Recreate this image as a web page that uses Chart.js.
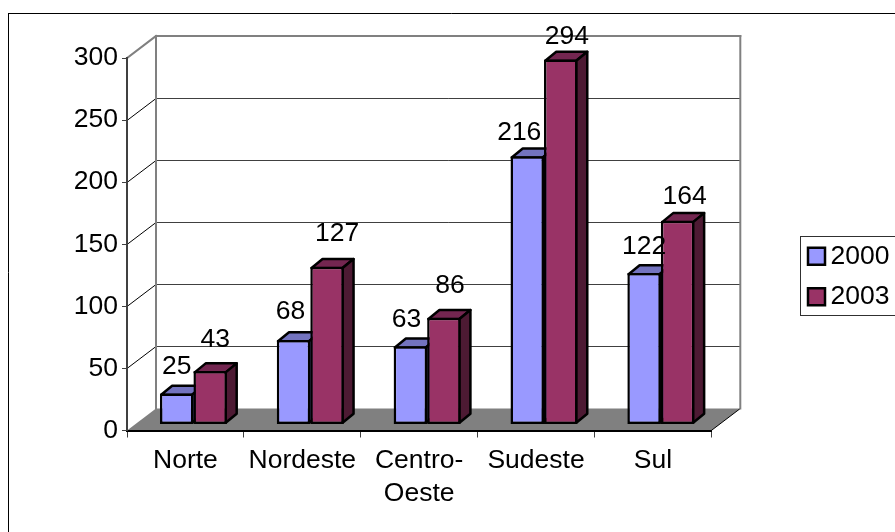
<!DOCTYPE html>
<html>
<head>
<meta charset="utf-8">
<style>
html,body{margin:0;padding:0;background:#fff;overflow:hidden}
#wrap{width:895px;height:532px}
canvas{display:block}
</style>
<script src="https://cdn.jsdelivr.net/npm/chart.js@4"></script>
</head>
<body>
<div id="wrap"><canvas id="c" width="895" height="532"></canvas></div>
<script>
const categories = ["Norte", "Nordeste", ["Centro-", "Oeste"], "Sudeste", "Sul"];
const values2000 = [25, 68, 63, 216, 122];
const values2003 = [43, 127, 86, 294, 164];
const tickValues = [0, 50, 100, 150, 200, 250, 300];

// label placement relative to the front-top centre of each bar [dx, dy]
const labelNudge2000 = [[0,-27],[-3,-28],[-4,-27],[-8,-24],[0,-26]];
const labelNudge2003 = [[5,-31],[10,-33.5],[6,-32.5],[6,-22.5],[7,-24.6]];

const FONT = '"Liberation Sans", Arial, sans-serif';
const FONT_SIZE = 26.5;
const WALL = {dx: 29, dy: -22};     // depth of the plot box
const BAR_SHIFT = {x: 8, y: -6};    // bars stand part-way into the floor
const BAR_DEPTH = {x: 11, y: -9};   // depth of each bar
const EDGE = 2.5;

function poly(ctx, pts, fill, stroke, lw) {
  ctx.beginPath();
  pts.forEach((p, i) => i ? ctx.lineTo(p[0], p[1]) : ctx.moveTo(p[0], p[1]));
  ctx.closePath();
  if (fill) { ctx.fillStyle = fill; ctx.fill(); }
  if (stroke) { ctx.strokeStyle = stroke; ctx.lineWidth = lw; ctx.lineJoin = 'round'; ctx.stroke(); }
}
function seg(ctx, x1, y1, x2, y2, color, lw) {
  ctx.beginPath(); ctx.moveTo(x1, y1); ctx.lineTo(x2, y2);
  ctx.strokeStyle = color; ctx.lineWidth = lw; ctx.stroke();
}

const box3d = {
  id: 'box3d',
  afterLayout(chart) {
    const lg = chart.legend;
    lg.left = 794; lg.right = 889.5; lg.top = 229; lg.bottom = 360;
    lg.adjustHitBoxes();
  },
  beforeDraw(chart) {
    const {ctx, chartArea: a, scales: {y}} = chart;
    ctx.save();
    // outer frame: only the top and left edges fall inside the picture
    seg(ctx, 8.5, 13.5, 895, 13.5, '#000', 1);
    seg(ctx, 8.5, 13, 8.5, 532, '#000', 1);
    // floor
    poly(ctx, [[a.left, a.bottom], [a.left + WALL.dx, a.bottom + WALL.dy],
               [a.right + WALL.dx, a.bottom + WALL.dy], [a.right, a.bottom]], '#808080');
    seg(ctx, a.right, a.bottom, a.right + WALL.dx, a.bottom + WALL.dy, '#000', 1);
    // walls and gridlines
    tickValues.forEach(v => {
      const py = Math.round(y.getPixelForValue(v)) + 0.5;
      if (v > 0 && v < 300) {
        seg(ctx, a.left, py, a.left + WALL.dx, py + WALL.dy, '#000', 1);
        seg(ctx, a.left + WALL.dx, py + WALL.dy, a.right + WALL.dx, py + WALL.dy, '#404040', 1);
      }
    });
    const top = y.getPixelForValue(300);
    ctx.lineCap = 'square';
    seg(ctx, a.left, top, a.left + WALL.dx, top + WALL.dy, '#808080', 2);
    seg(ctx, a.left + WALL.dx, top + WALL.dy, a.right + WALL.dx, top + WALL.dy, '#808080', 2);
    seg(ctx, a.left + WALL.dx, top + WALL.dy, a.left + WALL.dx, a.bottom + WALL.dy, '#808080', 2);
    seg(ctx, a.right + WALL.dx, top + WALL.dy, a.right + WALL.dx, a.bottom + WALL.dy, '#808080', 2);
    // legend frame
    ctx.strokeStyle = '#303030'; ctx.lineWidth = 1;
    ctx.strokeRect(800.5, 236.5, 110, 79);
    ctx.restore();
  },
  beforeDatasetsDraw(chart) {
    const ctx = chart.ctx;
    ctx.save();
    ctx.translate(BAR_SHIFT.x, BAR_SHIFT.y);
    // top and side faces of every bar, first series first, then the library draws the fronts
    chart.data.datasets.forEach((ds, i) => {
      chart.getDatasetMeta(i).data.forEach(el => {
        const p = el.getProps(['x', 'y', 'base', 'width']);
        const i2 = EDGE / 2;
        const l = p.x - p.width / 2 + i2, r = p.x + p.width / 2 - i2, t = p.y + i2, b = p.base - i2;
        const dx = BAR_DEPTH.x, dy = BAR_DEPTH.y;
        poly(ctx, [[l, t], [l + dx, t + dy], [r + dx, t + dy], [r, t]], ds.topColor, '#000', EDGE);
        poly(ctx, [[r, t], [r + dx, t + dy], [r + dx, b + dy], [r, b]], ds.sideColor, '#000', EDGE);
      });
    });
  },
  afterDatasetsDraw(chart) {
    const ctx = chart.ctx;
    ctx.restore();
    ctx.save();
    ctx.font = FONT_SIZE + 'px ' + FONT;
    ctx.fillStyle = '#000';
    ctx.textAlign = 'center';
    ctx.textBaseline = 'middle';
    chart.data.datasets.forEach((ds, i) => {
      chart.getDatasetMeta(i).data.forEach((el, j) => {
        const n = ds.labelNudge[j];
        ctx.fillText(String(ds.data[j]), el.x + BAR_SHIFT.x + n[0], el.y + BAR_SHIFT.y + n[1]);
      });
    });
    ctx.restore();
  }
};

Chart.defaults.font.family = FONT;
Chart.defaults.font.size = FONT_SIZE;
Chart.defaults.color = '#000';

new Chart(document.getElementById('c'), {
  type: 'bar',
  data: {
    labels: categories,
    datasets: [
      {label: '2000', data: values2000, backgroundColor: '#9999FF', borderColor: '#000', borderWidth: EDGE, borderSkipped: false,
       topColor: '#7373BF', sideColor: '#4D4D80', clip: false, labelNudge: labelNudge2000},
      {label: '2003', data: values2003, backgroundColor: '#993366', borderColor: '#000', borderWidth: EDGE, borderSkipped: false,
       topColor: '#732650', sideColor: '#4D1A33', clip: false, labelNudge: labelNudge2003}
    ]
  },
  options: {
    responsive: false,
    animation: false,
    events: [],
    categoryPercentage: 0.5736,
    barPercentage: 1,
    layout: {padding: {top: 58, right: 70.5, left: 0, bottom: 0}},
    scales: {
      x: {
        grid: {drawOnChartArea: false, drawTicks: true, tickLength: 7, color: '#404040', lineWidth: 1},
        border: {display: true, color: '#000', width: 2},
        ticks: {autoSkip: false, maxRotation: 0, minRotation: 0, padding: 7,
                font: {size: FONT_SIZE, lineHeight: 1.23}},
        afterFit(s) { s.height = 101.5; }
      },
      y: {
        min: 0, max: 300,
        grid: {drawOnChartArea: false, drawTicks: true, tickLength: 5, color: '#404040', lineWidth: 1},
        border: {display: true, color: '#404040', width: 2},
        ticks: {stepSize: 50, padding: 4, font: {size: FONT_SIZE}},
        afterFit(s) { s.width = 127; }
      }
    },
    plugins: {
      legend: {
        display: true, position: 'right', align: 'start',
        labels: {boxWidth: 17, boxHeight: 17, padding: 14, textAlign: 'right', color: '#000',
                 font: {size: FONT_SIZE}}
      },
      tooltip: {enabled: false},
      title: {display: false}
    }
  },
  plugins: [box3d]
});
</script>
</body>
</html>
